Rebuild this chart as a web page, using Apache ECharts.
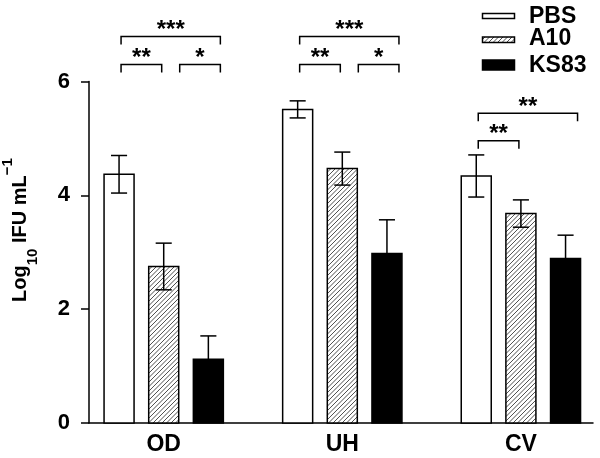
<!DOCTYPE html>
<html><head><meta charset="utf-8">
<script src="https://cdn.jsdelivr.net/npm/echarts@6/dist/echarts.min.js"></script>
<style>html,body{margin:0;padding:0;background:#fff}#c{width:600px;height:458px}</style>
</head><body><div id="c"></div>
<script>
// ---- data ----
const categories = ['OD', 'UH', 'CV'];
const seriesNames = ['PBS', 'A10', 'KS83'];
const pbsMean = [4.37, 5.51, 4.34];
const pbsErr = [0.33, 0.15, 0.37];
const a10Mean = [2.75, 4.47, 3.68];
const a10Err = [0.41, 0.29, 0.24];
const ks83Mean = [1.12, 2.98, 2.89];
const ks83Err = [0.41, 0.59, 0.41];
const yTicks = [0, 2, 4, 6];
// significance brackets: category, from series, to series, bracket level (log10 units), label
const sigCategory = [0, 0, 0, 1, 1, 1, 2, 2];
const sigFrom = [0, 1, 0, 0, 1, 0, 0, 0];
const sigTo = [1, 2, 2, 1, 2, 2, 1, 2];
const sigLevel = [6.30, 6.30, 6.79, 6.30, 6.30, 6.79, 4.96, 5.44];
const sigLabel = ['**', '*', '***', '**', '*', '***', '**', '**'];

// ---- style ----
const FONT = '"Liberation Sans", Arial, Helvetica, sans-serif';
const OFFSETS = [-0.25, 0, 0.25];
const BAR_W = 0.168;
const CAP_W = 0.09;
const LW = 1.5;

function hatchLines(x0, y0, x1, y1) {
  const s = 4.5, out = [];
  const cmin = x0 + y0, cmax = x1 + y1;
  for (let c = Math.ceil(cmin / s) * s; c <= cmax; c += s) {
    const xa = Math.max(x0, c - y1), xb = Math.min(x1, c - y0);
    if (xb - xa < 0.3) continue;
    out.push({type: 'line', shape: {x1: xa, y1: c - xa, x2: xb, y2: c - xb},
      style: {stroke: '#222', lineWidth: 0.8}});
  }
  return out;
}

function barRenderer(si) {
  return function (params, api) {
    const cat = api.value(0), val = api.value(1), err = api.value(2);
    const unit = api.size([1, 0])[0];
    const cx = api.coord([cat, 0])[0] + OFFSETS[si] * unit;
    const w = BAR_W * unit, cw = CAP_W * unit;
    const yBase = api.coord([cat, 0])[1];
    const yTop = api.coord([cat, val])[1];
    const yHi = api.coord([cat, val + err])[1];
    const yLo = api.coord([cat, val - err])[1];
    const x0 = cx - w / 2, x1 = cx + w / 2;
    const ch = [];
    ch.push({type: 'rect', shape: {x: x0, y: yTop, width: w, height: yBase - yTop},
      style: {fill: si === 2 ? '#000' : '#fff'}});
    if (si === 1) hatchLines(x0, yTop, x1, yBase).forEach(l => ch.push(l));
    ch.push({type: 'rect', shape: {x: x0, y: yTop, width: w, height: yBase - yTop},
      style: {fill: 'none', stroke: '#000', lineWidth: LW}});
    const es = {stroke: '#000', lineWidth: LW};
    ch.push({type: 'line', shape: {x1: cx, y1: yHi, x2: cx, y2: yLo}, style: es});
    ch.push({type: 'line', shape: {x1: cx - cw / 2, y1: yHi, x2: cx + cw / 2, y2: yHi}, style: es});
    ch.push({type: 'line', shape: {x1: cx - cw / 2, y1: yLo, x2: cx + cw / 2, y2: yLo}, style: es});
    return {type: 'group', children: ch};
  };
}

function sigRenderer(params, api) {
  const i = params.dataIndex;
  const cat = api.value(0), a = api.value(1), b = api.value(2), lvl = api.value(3);
  const unit = api.size([1, 0])[0];
  const base = api.coord([cat, lvl]);
  const xa = base[0] + OFFSETS[a] * unit + (a === 1 ? 16 : 2);
  const xb = base[0] + OFFSETS[b] * unit + (b === 2 ? 12 : -2);
  const y = base[1], drop = 8;
  const st = {stroke: '#000', lineWidth: LW, fill: 'none'};
  return {type: 'group', children: [
    {type: 'polyline', shape: {points: [[xa, y + drop], [xa, y], [xb, y], [xb, y + drop]]}, style: st},
    {type: 'text', x: (xa + xb) / 2, y: y - 6,
      style: {text: sigLabel[i], font: 'bold 24px ' + FONT, fill: '#000', align: 'center', verticalAlign: 'middle'}}
  ]};
}

const means = [pbsMean, a10Mean, ks83Mean];
const errs = [pbsErr, a10Err, ks83Err];

const series = seriesNames.map((n, si) => ({
  type: 'custom', name: n,
  renderItem: barRenderer(si),
  encode: {x: 0, y: 1},
  data: categories.map((c, ci) => [ci, means[si][ci], errs[si][ci]])
}));
series.push({
  type: 'custom', name: 'sig', renderItem: sigRenderer, encode: {x: 0, y: 3}, clip: false,
  data: sigCategory.map((c, i) => [c, sigFrom[i], sigTo[i], sigLevel[i]])
});

// legend drawn as graphic
const legendY = [[13.5, 5], [37, 5.5], [60, 10]];
const legendTextY = [16.7, 38.7, 65.3];
const legendChildren = [];
seriesNames.forEach((n, si) => {
  const [ry, rh] = legendY[si];
  const rx = 482.5, rw = 32;
  legendChildren.push({type: 'rect', shape: {x: rx, y: ry, width: rw, height: rh},
    style: {fill: si === 2 ? '#000' : '#fff'}});
  if (si === 1) hatchLines(rx, ry, rx + rw, ry + rh).forEach(l => legendChildren.push(l));
  legendChildren.push({type: 'rect', shape: {x: rx, y: ry, width: rw, height: rh},
    style: {fill: 'none', stroke: '#000', lineWidth: LW}});
  legendChildren.push({type: 'text', x: 529, y: legendTextY[si],
    style: {text: n, font: 'bold 23px ' + FONT, fill: '#000', align: 'left', verticalAlign: 'middle'}});
});

const chart = echarts.init(document.getElementById('c'));
chart.setOption({
  animation: false,
  backgroundColor: '#fff',
  grid: {left: 89, right: 7, top: 81.5, bottom: 35},
  xAxis: {
    type: 'value', min: -0.4183, max: 2.4037,
    axisLine: {show: true, onZero: false, lineStyle: {color: '#000', width: LW}},
    axisTick: {show: false}, splitLine: {show: false},
    axisLabel: {
      interval: 0, margin: 10, color: '#000', fontSize: 23, fontWeight: 'bold', fontFamily: FONT,
      showMinLabel: false, showMaxLabel: false,
      formatter: v => (Math.abs(v - Math.round(v)) < 1e-9 && categories[Math.round(v)] !== undefined) ? categories[Math.round(v)] : ''
    }
  },
  yAxis: {
    type: 'value', min: yTicks[0], max: yTicks[yTicks.length - 1], interval: yTicks[1] - yTicks[0],
    axisLine: {show: true, onZero: false, lineStyle: {color: '#000', width: LW}},
    axisTick: {show: true, length: 8, lineStyle: {color: '#000', width: LW}},
    splitLine: {show: false},
    axisLabel: {margin: 19, color: '#000', fontSize: 22, fontWeight: 'bold', fontFamily: FONT}
  },
  series: series,
  graphic: [
    {type: 'group', children: legendChildren},
    {type: 'text', x: 20, y: 230, rotation: Math.PI / 2,
      style: {
        text: '{m|Log}{s|10}{m| IFU mL}{p|\u22121}',
        align: 'center', verticalAlign: 'middle', fill: '#000',
        rich: {
          m: {fontSize: 20, fontWeight: 'bold', fontFamily: FONT, lineHeight: 40, verticalAlign: 'middle', fill: '#000'},
          s: {fontSize: 15, fontWeight: 'bold', fontFamily: FONT, lineHeight: 15, verticalAlign: 'bottom', fill: '#000'},
          p: {fontSize: 15, fontWeight: 'bold', fontFamily: FONT, lineHeight: 20, verticalAlign: 'top', fill: '#000'}
        }
      }}
  ]
});
</script></body></html>
